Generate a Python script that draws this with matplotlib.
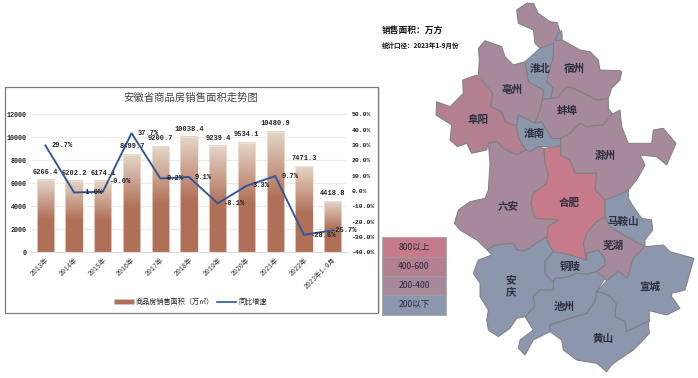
import numpy as np
import matplotlib
matplotlib.use("Agg")
import matplotlib.pyplot as plt
from matplotlib.colors import LinearSegmentedColormap
from matplotlib.lines import Line2D
from matplotlib.patches import Patch, Polygon, Rectangle

# ---------- data ----------
years = ["2013年", "2014年", "2015年", "2016年", "2017年", "2018年", "2019年",
         "2020年", "2021年", "2022年", "2023年1-9月"]
area = [6266.4, 6202.2, 6174.1, 8499.7, 9200.7, 10038.4, 9239.4, 9534.1, 10480.9, 7471.3, 4418.8]
growth = [29.7, -1.0, -0.5, 37.7, 8.2, 9.1, -8.1, 3.3, 9.7, -28.6, -25.7]
growth_labels = ["29.7%", "-1.0%", "-0.0%", "37.7%", "8.2%", "9.1%", "-8.1%", "3.3%", "9.7%", "-28.6%", "-25.7%"]
left_ticks = [0, 2000, 4000, 6000, 8000, 10000, 12000]
right_ticks = [-40, -30, -20, -10, 0, 10, 20, 30, 40, 50]
title = "安徽省商品房销售面积走势图"
series_names = ["商品房销售面积（万㎡）", "同比增速"]
note_main = "销售面积：万方"
note_sub = "统计口径：2023年1-9月份"
tier_labels = ["800以上", "400-600", "200-400", "200以下"]
tier_colors = ["#c67a8a", "#b2808f", "#a6899b", "#8c96ac"]

# region outlines (map units)
huaibei = [(550,100),(510,115),(465,155),(475,215),(520,240),(517,268),(540,268),(550,235),(530,215),(535,190),(550,140)]
huaibei_sliver = [(575,62),(565,70),(555,90),(570,92),(577,82)]
suzhou = [(440,0),(470,-20),(490,-20),(505,10),(540,35),(562,38),(577,90),(630,120),(660,125),(685,150),(690,180),(750,182),
          (755,185),(750,210),(725,235),(715,265),(680,270),(640,250),(610,235),(590,230),(565,262),(540,268),(550,235),
          (530,215),(535,190),(550,140),(550,100),(510,115),(495,100),(490,60),(445,40)]
bozhou = [(325,115),(345,92),(395,110),(405,140),(430,165),(465,155),(475,215),(520,240),(517,268),(510,300),(495,340),
          (445,315),(440,348),(405,335),(395,305),(362,290),(368,250),(325,195),(328,150)]
fuyang = [(278,210),(320,195),(368,250),(362,290),(395,305),(405,335),(440,348),(447,385),(468,420),(440,435),(400,415),
          (380,395),(355,400),(350,420),(305,430),(290,400),(262,410),(240,390),(245,345),(198,315),(200,275),(240,290),(280,250)]
huainan = [(445,315),(495,340),(515,335),(545,385),(572,385),(572,408),(505,410),(480,425),(468,420),(447,385),(440,348)]
bengbu = [(517,268),(565,262),(590,230),(610,235),(640,250),(680,270),(715,265),(715,295),(728,312),(700,345),(650,350),
          (630,340),(600,370),(572,385),(545,385),(515,335),(495,340),(510,300)]
chuzhou = [(572,385),(600,370),(630,340),(650,350),(700,345),(728,312),(750,300),(755,350),(775,400),(845,400),(850,360),
           (880,355),(918,400),(890,465),(860,440),(810,435),(825,465),(800,510),(775,540),(745,555),(705,570),(675,540),
           (680,490),(615,490),(600,450),(572,435),(572,408)]
hefei = [(522,415),(572,408),(572,435),(600,450),(615,490),(680,490),(675,540),(705,570),(705,620),(680,635),(650,670),
         (640,700),(650,750),(600,735),(550,725),(530,690),(535,650),(565,630),(540,627),(495,625),(483,580),(490,550),(530,520),(535,490),(525,460)]
liuan = [(355,400),(380,395),(400,415),(440,435),(468,420),(480,425),(505,410),(522,415),(525,460),(535,490),(530,520),
         (490,550),(483,580),(495,625),(540,627),(565,630),(535,650),(530,680),(480,715),(465,722),(440,720),(430,700),
         (375,705),(352,720),(320,690),(270,660),(253,640),(265,600),(300,575),(345,565),(355,540),(360,460)]
anqing = [(352,720),(375,705),(430,700),(440,720),(465,722),(530,680),(530,690),(550,725),(525,755),(525,790),(550,815),
          (550,840),(510,840),(490,860),(495,890),(465,920),(440,925),(420,955),(385,980),(355,960),(350,930),(355,900),
          (330,860),(330,820),(310,790),(325,750),(365,735)]
tongling = [(550,725),(600,735),(650,750),(650,730),(685,720),(705,745),(705,765),(680,785),(650,793),(620,790),(590,802),
            (555,805),(550,815),(525,790),(525,755)]
wuhu = [(650,670),(680,635),(705,620),(720,650),(770,680),(825,710),(790,745),(772,805),(745,785),(710,812),(680,785),
        (705,765),(705,745),(685,720),(650,730),(650,750),(640,700)]
maanshan = [(705,570),(745,555),(775,540),(775,565),(790,590),(815,625),(845,630),(848,660),(825,690),(825,710),(770,680),(720,650),(705,620)]
xuancheng = [(825,710),(880,705),(900,725),(972,745),(945,840),(905,850),(905,860),(930,895),(890,915),(838,902),(838,935),
             (810,945),(770,965),(765,935),(735,920),(738,880),(720,860),(700,850),(680,845),(710,812),(745,785),(772,805),(790,745)]
chizhou = [(550,840),(550,815),(555,805),(590,802),(620,790),(650,793),(680,785),(705,805),(680,845),(675,875),(650,910),
           (600,925),(540,945),(540,965),(520,975),(490,990),(465,1035),(445,1015),(450,990),(490,960),(465,920),(495,890),(490,860),(510,840)]
huangshan = [(540,945),(600,925),(650,910),(675,875),(680,845),(700,850),(720,860),(738,880),(735,920),(765,935),(770,965),
             (810,945),(835,935),(838,970),(810,1000),(790,1020),(775,1030),(745,1050),(725,1065),(710,1085),(680,1060),
             (620,1050),(580,1020),(575,990),(540,965)]

regions = [(suzhou, 2), (huaibei, 3), (huaibei_sliver, 3), (bozhou, 2), (fuyang, 1), (huainan, 3), (bengbu, 2), (chuzhou, 2),
           (liuan, 2), (hefei, 0), (anqing, 3), (tongling, 3), (wuhu, 2), (maanshan, 3), (xuancheng, 3), (chizhou, 3), (huangshan, 3)]
city_labels = [("淮北", 510, 178), ("宿州", 612, 175), ("亳州", 427, 240), ("蚌埠", 592, 303), ("阜阳", 325, 330),
               ("淮南", 494, 372), ("滁州", 707, 438), ("六安", 414, 592), ("合肥", 598, 577), ("马鞍山", 760, 635),
               ("芜湖", 730, 707), ("铜陵", 602, 771), ("安", 423, 812), ("庆", 423, 850), ("宣城", 840, 829),
               ("池州", 582, 891), ("黄山", 698, 988)]

# ---------- figure ----------
W, H = 698, 378
CJK = "Noto Sans CJK SC"
MONO = ["Liberation Mono", CJK]
fig = plt.figure(figsize=(W / 100, H / 100), dpi=100, facecolor="white")

# background layer in picture pixels: chart frame
bg = fig.add_axes([0, 0, 1, 1])
bg.set_xlim(0, W); bg.set_ylim(H, 0); bg.axis("off")
bg.add_patch(Rectangle((378, 87), 1.5, 226, fc="#e4e4e4", ec="none"))
bg.add_patch(Rectangle((4.5, 86.5), 373, 226, fc="white", ec="#7a7a7a", lw=0.9))

# map layer
mp = fig.add_axes([0, 0, 1, 1])
mp.set_xlim(-1110, 984); mp.set_ylim(1104, -30); mp.axis("off"); mp.patch.set_alpha(0)
for outline, tier in regions:
    mp.add_patch(Polygon(outline, closed=True, fc=tier_colors[tier], ec="#7f7f80", lw=0.7, joinstyle="round"))
for name, x, y in city_labels:
    mp.text(x, y, name, family=CJK, fontsize=7.6, color="#2e2e42", ha="center", va="center", weight="bold")
row_h = 232 / len(tier_labels)
for i, (lab, col) in enumerate(zip(tier_labels, tier_colors)):
    top = 682 + i * row_h
    mp.add_patch(Rectangle((36, top), 192, row_h, fc=col, ec="#9a9a9e", lw=0.5))
    mp.text(132, top + row_h / 2, lab, family=CJK, fontsize=6.2, color="#2a2a3c", ha="center", va="center")
fig.text(382 / W, 1 - 30 / H, note_main, family=CJK, fontsize=6.3, weight="bold", color="#111111", va="center")
fig.text(382 / W, 1 - 45 / H, note_sub, family=CJK, fontsize=4.7, weight="bold", color="#111111", va="center")

# chart layer
L, R, T, B = 31, 347, 114.3, 252.3
ax = fig.add_axes([L / W, 1 - B / H, (R - L) / W, (B - T) / H])
ax.patch.set_alpha(0)
x = np.arange(len(years))
ax.set_xlim(-0.5, len(years) - 0.5)
ax.set_ylim(left_ticks[0], left_ticks[-1])
ax.set_yticks(left_ticks)
ax.grid(axis="y", color="#ebebeb", lw=0.9)
ax.set_axisbelow(True)
for s in ["top", "left", "right"]:
    ax.spines[s].set_visible(False)
ax.spines["bottom"].set_color("#dcdcdc")
ax.tick_params(length=0, pad=3)
ax.set_xticks(x)
ax.set_xticklabels(years, rotation=45, ha="right", rotation_mode="anchor", family=MONO, fontsize=4.8, color="#333333")
for lab in ax.get_yticklabels():
    lab.set(family=MONO, fontsize=4.9, weight="bold", color="#222222")

cmap = LinearSegmentedColormap.from_list("bar", [(0, "#b07058"), (0.45, "#b07058"), (1, "#e6d6c8")])
grad = np.linspace(1, 0, 128).reshape(-1, 1)
bars = ax.bar(x, area, width=0.6, fc="none", ec="#f0e4da", lw=0.5, zorder=3)
for b in bars:
    ax.imshow(grad, extent=(b.get_x(), b.get_x() + b.get_width(), 0, b.get_height()), cmap=cmap,
              vmin=0, vmax=1, aspect="auto", zorder=2, interpolation="bilinear")
ax.set_xlim(-0.5, len(years) - 0.5)
ax.set_ylim(left_ticks[0], left_ticks[-1])
for xi, v in zip(x, area):
    ax.annotate(f"{v:.1f}", (xi, v), xytext=(0.3, 5.6), textcoords="offset points", ha="center", va="center",
                family=MONO, fontsize=5, weight="bold", color="#222222", zorder=6)

ax2 = ax.twinx()
ax2.patch.set_alpha(0)
ax2.set_ylim(right_ticks[0], right_ticks[-1])
ax2.set_yticks(right_ticks)
ax2.set_yticklabels([f"{t:.1f}%" for t in right_ticks], family=MONO, fontsize=4.6, weight="bold", color="#222222")
ax2.tick_params(length=0, pad=3.4)
for s in ax2.spines.values():
    s.set_visible(False)
LINE = "#2f5597"
ax2.plot(x, growth, color=LINE, lw=1.35, zorder=5, solid_joinstyle="miter")
# label offsets from each point, in pixels at 100 dpi
lab_dx = [16.7, 18.7, 17.3, 16.3, 14.6, 14.3, 17.2, 15.2, 14.8, 20, 12.5]
lab_dy = [0, 0, 10, 0, 0, 0, 0, 0, 0, -1, 0]
for xi, g, s, dx, dy in zip(x, growth, growth_labels, lab_dx, lab_dy):
    ax2.annotate(s, (xi, g), xytext=(dx * 0.72, dy * 0.72), textcoords="offset points", ha="center", va="center",
                 family=MONO, fontsize=5, weight="bold", color="#222222", zorder=6)

fig.text(191 / W, 1 - 98 / H, title, family=CJK, fontsize=7.5, color="#444444", ha="center", va="center")
handles = [Patch(fc="#b07058", ec="#e0c8b8", lw=0.4), Line2D([], [], color=LINE, lw=1.2)]
fig.legend(handles, series_names, loc="center", bbox_to_anchor=(190.5 / W, 1 - 302 / H), ncol=2, frameon=False,
           prop={"family": CJK, "size": 5.1, "weight": "medium"}, handlelength=2.7, handleheight=0.5,
           handletextpad=0.3, columnspacing=0.4, labelcolor="#222222", borderpad=0)

fig.savefig("out.png", dpi=100, facecolor="white")
